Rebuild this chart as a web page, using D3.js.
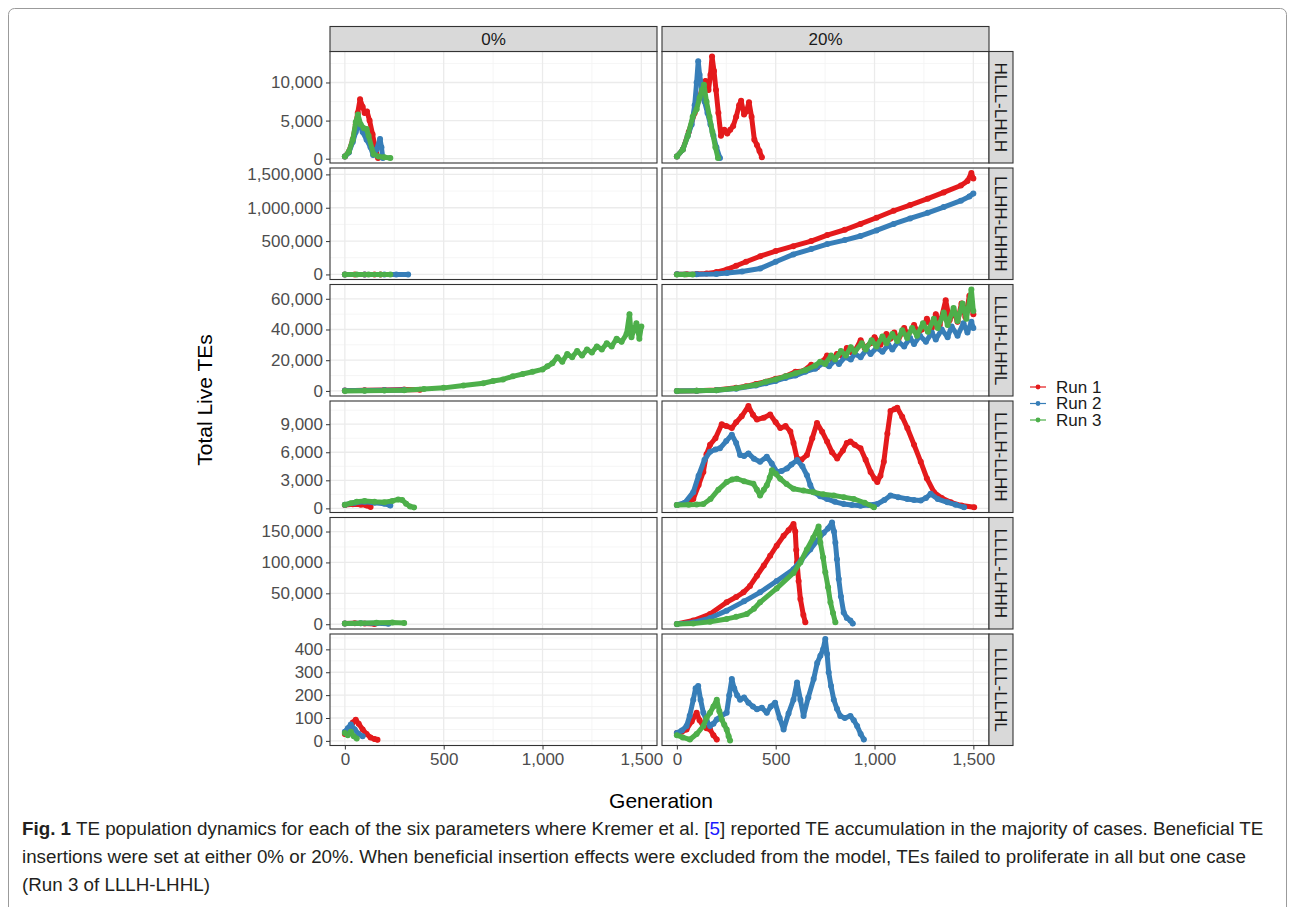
<!DOCTYPE html>
<html lang="en">
<head>
<meta charset="UTF-8">
<title>TE population dynamics</title>
<script src="https://d3js.org/d3.v7.min.js"></script>
<style>
    body { margin: 0; background: #fff; }
    text { font-family: "Liberation Sans", Arial, sans-serif; }
    .tick text { fill: #4d4d4d; font-size: 17px; }
    .tick line { stroke: #333; }
    .strip text { fill: #1a1a1a; font-size: 17px; }
    .caption { font-family: "Liberation Sans Narrow", "Liberation Sans", sans-serif; font-size: 18.8px; fill: #231f20; }
</style>
</head>
<body>
<svg width="1294" height="907"></svg>
<script>
// ---- data: [generation, total live TEs] ----
let colLabels = ['0%', '20%'];
let rowLabels = ['HLLL-LHLH', 'LLHH-LHHH', 'LLLH-LHHL', 'LLLH-LLHH', 'LLLL-LHHH', 'LLLL-LLHL'];
let runNames = ['Run 1', 'Run 2', 'Run 3'];
let runColors = ['#e41a1c', '#377eb8', '#4daf4a'];
let xTicks = [0, 500, 1000, 1500];
let yTicks = [
    [0, 5000, 10000],
    [0, 500000, 1000000, 1500000],
    [0, 20000, 40000, 60000],
    [0, 3000, 6000, 9000],
    [0, 50000, 100000, 150000],
    [0, 100, 200, 300, 400]
];

// HLLL-LHLH
let hlll_0_run1 = [[0,300],[20,900],[40,2500],[55,4500],[65,6000],[77,7800],[90,6800],[100,6000],[112,6200],[125,5000],[140,3200],[155,1200],[168,100]];
let hlll_0_run2 = [[0,300],[20,800],[40,2200],[55,3500],[72,4700],[90,3500],[110,2500],[130,1500],[143,500],[160,1200],[178,2600],[185,1500],[192,100]];
let hlll_0_run3 = [[0,300],[20,900],[40,2500],[55,4800],[66,5800],[80,4500],[96,4000],[110,3900],[120,3000],[145,600],[170,300],[200,200],[230,100]];
let hlll_20_run1 = [[0,300],[30,1200],[60,3500],[90,6000],[115,8000],[130,9500],[145,10200],[160,9000],[170,11000],[178,13400],[188,11500],[198,9000],[210,6000],[223,3000],[240,3800],[255,3300],[270,3800],[285,4300],[300,5500],[315,7000],[325,7600],[340,5800],[352,6200],[365,7400],[378,5500],[392,2500],[405,1800],[418,1000],[430,200]];
let hlll_20_run2 = [[0,300],[30,1200],[55,3000],[75,4500],[90,7000],[100,10000],[108,12800],[115,11000],[125,9500],[140,7500],[155,6000],[170,4500],[185,3000],[200,1500],[218,100]];
let hlll_20_run3 = [[0,300],[30,1200],[55,3000],[80,5500],[100,6500],[115,8000],[127,9000],[137,9700],[150,7500],[165,5500],[180,3500],[195,1500],[208,100]];

// LLHH-LHHH
let llhh_0_run1 = [[0,200],[50,400],[100,300],[150,200],[180,100]];
let llhh_0_run2 = [[0,200],[100,500],[200,600],[260,400],[320,200]];
let llhh_0_run3 = [[0,200],[60,400],[120,500],[180,400],[230,200]];
let llhh_20_run1 = [[0,1000],[50,2000],[100,5000],[150,15000],[200,35000],[254,75000],[300,130000],[350,190000],[422,273000],[500,350000],[589,424000],[680,500000],[761,590000],[850,670000],[929,757000],[1010,850000],[1097,955000],[1180,1040000],[1269,1136000],[1350,1230000],[1437,1333000],[1470,1400000],[1490,1520000],[1500,1440000]];
let llhh_20_run2 = [[0,1000],[100,2000],[200,8000],[254,20000],[330,45000],[422,90000],[500,190000],[589,300000],[680,380000],[761,455000],[850,515000],[929,576000],[1010,660000],[1097,757000],[1180,840000],[1269,924000],[1350,1010000],[1437,1106000],[1480,1170000],[1500,1212000]];
let llhh_20_run3 = [[0,200],[40,400],[80,300]];

// LLLH-LHHL
let lhhl_0_run1 = [[0,200],[100,400],[200,600],[300,900],[380,700]];
let lhhl_0_run2 = [[0,200],[100,300],[200,500],[300,600]];
let lhhl_0_run3 = [[0,0],[100,100],[200,200],[300,500],[400,1200],[500,2000],[600,3500],[700,5000],[750,6500],[800,7500],[850,9500],[900,11000],[950,12500],[1000,14000],[1025,16000],[1050,18000],[1075,22000],[1100,19000],[1125,24000],[1150,22000],[1175,26000],[1200,23000],[1225,27000],[1250,25000],[1275,29000],[1300,27000],[1325,31000],[1350,29000],[1375,34000],[1400,32000],[1425,37000],[1440,50000],[1450,35000],[1475,44000],[1490,34000],[1500,42000]];
let lhhl_20_run1 = [[0,0],[100,100],[200,600],[300,2000],[350,3000],[400,4500],[450,6000],[500,8000],[550,9500],[600,12500],[640,13000],[680,17000],[710,15500],[740,19500],[760,23000],[790,20000],[810,24000],[840,22500],[860,28000],[885,25000],[905,27000],[930,33000],[950,28000],[980,31000],[1000,35000],[1030,30000],[1060,37000],[1080,34000],[1100,38000],[1120,33000],[1150,41000],[1170,36000],[1200,43000],[1220,38000],[1240,40000],[1265,47000],[1290,41000],[1310,50000],[1330,43000],[1360,59000],[1380,46000],[1400,52000],[1420,45000],[1440,57000],[1460,48000],[1480,62000],[1500,50000]];
let lhhl_20_run2 = [[0,0],[100,100],[200,400],[300,1500],[400,3500],[450,5000],[500,6500],[550,8500],[600,10000],[650,12500],[700,14500],[740,18000],[770,16000],[800,20000],[820,17500],[850,22000],[880,20500],[900,24000],[930,22000],[960,27000],[980,24000],[1010,28000],[1040,25500],[1070,30000],[1090,27000],[1120,32000],[1150,29000],[1180,34500],[1200,30500],[1230,36000],[1260,32000],[1290,38000],[1310,33500],[1340,40000],[1370,35000],[1390,42000],[1420,36000],[1450,44000],[1470,38000],[1490,45000],[1500,41000]];
let lhhl_20_run3 = [[0,0],[100,100],[200,500],[300,1800],[400,4000],[450,6000],[500,7500],[550,9500],[600,11500],[650,13500],[700,16500],[725,19000],[750,17500],[780,23000],[800,20500],[830,26000],[855,23000],[880,28500],[900,25500],[935,31000],[955,27000],[985,33000],[1010,29000],[1040,35500],[1060,31000],[1090,37000],[1115,32500],[1140,39500],[1165,34500],[1190,41000],[1215,36000],[1245,44000],[1270,38500],[1300,47000],[1320,41000],[1350,51000],[1370,43000],[1400,54000],[1420,45500],[1445,57000],[1465,47000],[1490,66000],[1500,52000]];

// LLLH-LLHH
let llhh2_0_run1 = [[0,350],[40,450],[80,400],[110,300],[130,150]];
let llhh2_0_run2 = [[0,400],[50,600],[100,700],[150,600],[200,500],[230,300]];
let llhh2_0_run3 = [[0,400],[30,550],[60,700],[100,800],[150,700],[200,650],[240,800],[270,950],[290,900],[310,500],[330,200],[350,100]];
let llhh2_20_run1 = [[0,360],[40,500],[83,1000],[110,2500],[134,3900],[150,5800],[168,6800],[195,7500],[227,9000],[250,8800],[278,8600],[300,9200],[328,9850],[362,10940],[385,10000],[405,9500],[440,9700],[472,10040],[500,9200],[523,8590],[550,8800],[574,8230],[590,7000],[608,5340],[630,5200],[658,5700],[685,7500],[709,9130],[735,8200],[760,7150],[785,6000],[811,5340],[840,6200],[860,7000],[878,7150],[900,6800],[929,6420],[955,5200],[980,3900],[1000,3200],[1014,2815],[1030,3500],[1047,4980],[1065,8000],[1081,10400],[1100,10600],[1115,10750],[1140,9800],[1166,8590],[1200,6800],[1234,4980],[1265,3200],[1301,1730],[1340,1100],[1386,650],[1440,300],[1504,110]];
let llhh2_20_run2 = [[0,360],[40,600],[83,1730],[110,3500],[140,5200],[168,6060],[195,6300],[218,6420],[250,7200],[278,7870],[300,7000],[320,5700],[340,5600],[362,5880],[390,5300],[421,4980],[455,5520],[480,4800],[506,3900],[530,4000],[557,4260],[580,4700],[608,5160],[635,4500],[658,3540],[675,2500],[692,1730],[725,1300],[760,1010],[800,700],[844,470],[885,350],[929,290],[970,350],[1014,470],[1050,900],[1081,1370],[1120,1200],[1166,1010],[1200,900],[1234,830],[1260,1100],[1284,1550],[1320,1000],[1369,650],[1410,400],[1453,110]];
let llhh2_20_run3 = [[0,360],[60,400],[100,420],[134,470],[170,1000],[210,2000],[252,2815],[280,3100],[303,3170],[340,2900],[387,2630],[405,2000],[421,1370],[440,2000],[455,2460],[470,3300],[481,4080],[500,3700],[523,3170],[555,2600],[590,2090],[640,1900],[692,1730],[740,1500],[794,1370],[845,1200],[895,1010],[950,600],[997,110]];

// LLLL-LHHH
let lhhh_0_run1 = [[0,1000],[50,1500],[100,1200],[150,500]];
let lhhh_0_run2 = [[0,1000],[80,1800],[160,1500],[220,800]];
let lhhh_0_run3 = [[0,1000],[80,1800],[160,2500],[240,2800],[300,2000]];
let lhhh_20_run1 = [[0,500],[83,6000],[168,16600],[252,35500],[300,44000],[337,51600],[370,62000],[405,78500],[440,95000],[472,110800],[505,127000],[540,143000],[565,152000],[590,162000],[599,150000],[604,120000],[608,100000],[616,70000],[625,40800],[640,15000],[650,3200]];
let lhhh_20_run2 = [[0,500],[83,3000],[168,10000],[252,22000],[340,37000],[421,51600],[505,70000],[590,89000],[630,104000],[675,121000],[710,135000],[743,148000],[765,155000],[785,164500],[795,150000],[802,132000],[810,105000],[819,73000],[830,45000],[844,19000],[860,10000],[878,6000],[890,1000]];
let lhhh_20_run3 = [[0,500],[83,1000],[168,4000],[252,8600],[300,12000],[354,16600],[390,25000],[421,35500],[505,58000],[590,83000],[625,100000],[658,121000],[690,140000],[717,158000],[722,145000],[726,132000],[740,108000],[751,84000],[765,60000],[777,35500],[790,18000],[802,3200]];

// LLLL-LLHL
let llhl_0_run1 = [[0,30],[20,45],[40,80],[55,92],[70,75],[90,50],[110,30],[130,15],[150,8],[165,5]];
let llhl_0_run2 = [[0,40],[15,55],[30,72],[50,50],[70,30],[90,20]];
let llhl_0_run3 = [[0,35],[15,25],[30,40],[45,20],[60,10]];
let llhl_20_run1 = [[0,35],[25,40],[49,50],[75,85],[100,123],[115,90],[134,65],[150,55],[168,50],[185,25],[202,6]];
let llhl_20_run2 = [[0,35],[25,45],[49,65],[65,110],[83,180],[95,230],[108,240],[120,180],[134,123],[150,90],[168,65],[185,75],[202,94],[225,110],[252,123],[265,200],[278,270],[290,230],[305,200],[320,180],[340,190],[362,167],[385,150],[405,138],[430,145],[455,123],[475,150],[497,167],[520,100],[540,50],[565,120],[590,180],[608,255],[625,180],[641,109],[665,190],[692,270],[710,340],[726,372],[740,400],[751,445],[760,380],[768,300],[780,240],[794,180],[810,140],[827,109],[850,100],[878,109],[895,90],[912,65],[930,30],[946,6]];
let llhl_20_run3 = [[0,25],[30,15],[66,6],[100,30],[134,65],[150,100],[168,123],[185,150],[202,180],[215,130],[227,94],[240,70],[252,50],[262,20],[269,2]];

let panels = [
    [[hlll_0_run1, hlll_0_run2, hlll_0_run3], [hlll_20_run1, hlll_20_run2, hlll_20_run3]],
    [[llhh_0_run1, llhh_0_run2, llhh_0_run3], [llhh_20_run1, llhh_20_run2, llhh_20_run3]],
    [[lhhl_0_run1, lhhl_0_run2, lhhl_0_run3], [lhhl_20_run1, lhhl_20_run2, lhhl_20_run3]],
    [[llhh2_0_run1, llhh2_0_run2, llhh2_0_run3], [llhh2_20_run1, llhh2_20_run2, llhh2_20_run3]],
    [[lhhh_0_run1, lhhh_0_run2, lhhh_0_run3], [lhhh_20_run1, lhhh_20_run2, lhhh_20_run3]],
    [[llhl_0_run1, llhl_0_run2, llhl_0_run3], [llhl_20_run1, llhl_20_run2, llhl_20_run3]]
];

// ---- layout ----
let svg = d3.select('svg');
let colX = [330, 662], pw = 327;
let rowTop = 51.5, ph = 111.5, rowGap = 5;
let stripH = 25, stripW = 24;

svg.append('rect').attr('x', 8.5).attr('y', 8.5).attr('width', 1278).attr('height', 930)
    .attr('rx', 6).attr('fill', 'none').attr('stroke', '#9b9b9b').attr('stroke-width', 1);

let allPts = panels.flat(2).flat();
let xExt = d3.extent(allPts, d => d[0]);
let xPad = (xExt[1] - xExt[0]) * 0.05;
let x0 = d3.scaleLinear().domain([xExt[0] - xPad, xExt[1] + xPad]).range([0, pw]);

let fmt = d3.format(',');
let defs = svg.append('defs');
defs.append('clipPath').attr('id', 'clip').append('rect').attr('width', pw).attr('height', ph);

panels.forEach((row, r) => {
    let top = rowTop + r * (ph + rowGap);
    let rowPts = row.flat(2);
    let yExt = d3.extent(rowPts, d => d[1]);
    let yPad = (yExt[1] - yExt[0]) * 0.05;
    let y = d3.scaleLinear().domain([yExt[0] - yPad, yExt[1] + yPad]).range([ph, 0]);
    let ticks = yTicks[r];
    let step = ticks[1] - ticks[0];
    let minor = d3.range(ticks[0] - step / 2, yExt[1] + yPad, step).filter(v => v > y.domain()[0] && v < y.domain()[1]);

    row.forEach((runs, c) => {
        let g = svg.append('g').attr('transform', 'translate(' + colX[c] + ',' + top + ')');
        g.append('rect').attr('width', pw).attr('height', ph).attr('fill', '#fff');

        // grid
        let xMinor = d3.range(-250, 1751, 500).filter(v => v > x0.domain()[0] && v < x0.domain()[1]);
        g.selectAll('.gxm').data(xMinor).enter().append('line')
            .attr('x1', d => x0(d)).attr('x2', d => x0(d)).attr('y1', 0).attr('y2', ph)
            .attr('stroke', '#f2f2f2').attr('stroke-width', 0.8);
        g.selectAll('.gym').data(minor).enter().append('line')
            .attr('y1', d => y(d)).attr('y2', d => y(d)).attr('x1', 0).attr('x2', pw)
            .attr('stroke', '#f2f2f2').attr('stroke-width', 0.8);
        g.selectAll('.gx').data(xTicks).enter().append('line')
            .attr('x1', d => x0(d)).attr('x2', d => x0(d)).attr('y1', 0).attr('y2', ph)
            .attr('stroke', '#ebebeb').attr('stroke-width', 1.3);
        g.selectAll('.gy').data(ticks).enter().append('line')
            .attr('y1', d => y(d)).attr('y2', d => y(d)).attr('x1', 0).attr('x2', pw)
            .attr('stroke', '#ebebeb').attr('stroke-width', 1.3);

        let plot = g.append('g').attr('clip-path', 'url(#clip)');
        let line = d3.line().x(d => x0(d[0])).y(d => y(d[1]));
        // each run: line then its points, later runs on top
        runs.forEach((pts, k) => {
            plot.append('path').datum(pts).attr('d', line)
                .attr('fill', 'none').attr('stroke', runColors[k])
                .attr('stroke-width', 5).attr('stroke-linejoin', 'round').attr('stroke-linecap', 'round');
            plot.selectAll('.pt' + k).data(pts).enter().append('circle')
                .attr('cx', d => x0(d[0])).attr('cy', d => y(d[1])).attr('r', 3)
                .attr('fill', runColors[k]);
        });

        g.append('rect').attr('width', pw).attr('height', ph)
            .attr('fill', 'none').attr('stroke', '#333').attr('stroke-width', 1.1);

        if (c === 0) {
            g.append('g').call(d3.axisLeft(y).tickValues(ticks).tickFormat(fmt).tickSize(4).tickPadding(3))
                .call(a => a.select('.domain').remove());
        }
        if (r === panels.length - 1) {
            g.append('g').attr('transform', 'translate(0,' + ph + ')')
                .call(d3.axisBottom(x0).tickValues(xTicks).tickFormat(fmt).tickSize(4).tickPadding(3))
                .call(a => a.select('.domain').remove());
        }
    });

    // right strip
    let s = svg.append('g').attr('class', 'strip').attr('transform', 'translate(' + (colX[1] + pw) + ',' + top + ')');
    s.append('rect').attr('width', stripW).attr('height', ph).attr('fill', '#d9d9d9').attr('stroke', '#333').attr('stroke-width', 1.1);
    s.append('text').attr('transform', 'translate(' + (stripW / 2) + ',' + (ph / 2) + ') rotate(90)')
        .attr('text-anchor', 'middle').attr('dy', '0.35em').text(rowLabels[r]);
});

// top strips
colLabels.forEach((lab, c) => {
    let s = svg.append('g').attr('class', 'strip').attr('transform', 'translate(' + colX[c] + ',' + (rowTop - stripH) + ')');
    s.append('rect').attr('width', pw).attr('height', stripH).attr('fill', '#d9d9d9').attr('stroke', '#333').attr('stroke-width', 1.1);
    s.append('text').attr('x', pw / 2).attr('y', stripH / 2).attr('dy', '0.35em').attr('text-anchor', 'middle').text(lab);
});

// axis titles
svg.append('text').attr('transform', 'translate(212,400) rotate(-90)').attr('text-anchor', 'middle')
    .attr('font-size', 21).attr('fill', '#000').text('Total Live TEs');
svg.append('text').attr('x', 661).attr('y', 808).attr('text-anchor', 'middle')
    .attr('font-size', 21).attr('fill', '#000').text('Generation');

// legend
let leg = svg.append('g').attr('transform', 'translate(1030,387)');
runNames.forEach((n, i) => {
    let li = leg.append('g').attr('transform', 'translate(0,' + (i * 16.5) + ')');
    li.append('line').attr('x1', 0).attr('x2', 16).attr('stroke', runColors[i]).attr('stroke-width', 1.2);
    li.append('circle').attr('cx', 8).attr('r', 2.4).attr('fill', runColors[i]);
    li.append('text').attr('x', 26).attr('dy', '0.35em').attr('font-size', 17).attr('fill', '#1a1a1a').text(n);
});

// caption
let cap = svg.append('g').attr('class', 'caption');
let l1 = cap.append('text').attr('class', 'caption').attr('x', 22).attr('y', 835);
l1.append('tspan').attr('font-weight', 'bold').text('Fig. 1');
l1.append('tspan').text(' TE population dynamics for each of the six parameters where Kremer et al. [');
l1.append('tspan').attr('fill', '#1a1aff').text('5');
l1.append('tspan').text('] reported TE accumulation in the majority of cases. Beneficial TE');
cap.append('text').attr('class', 'caption').attr('x', 22).attr('y', 863)
    .text('insertions were set at either 0% or 20%. When beneficial insertion effects were excluded from the model, TEs failed to proliferate in all but one case');
cap.append('text').attr('class', 'caption').attr('x', 22).attr('y', 891).text('(Run 3 of LLLH-LHHL)');
</script>
</body>
</html>
